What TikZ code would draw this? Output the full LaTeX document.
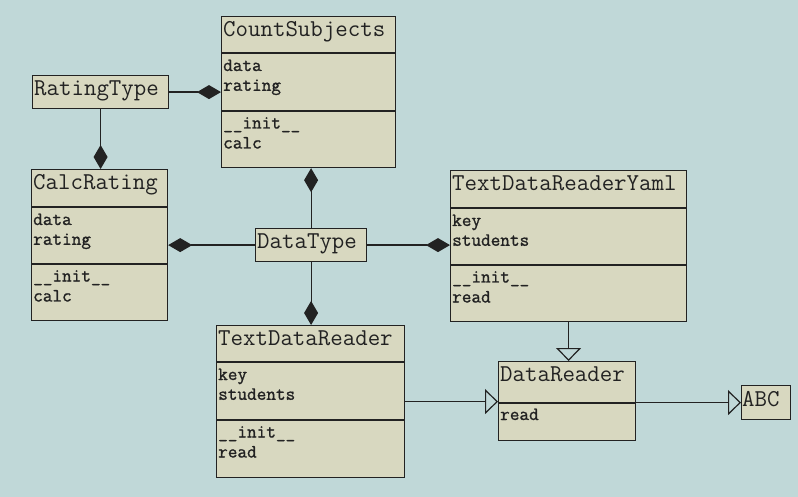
\documentclass[tikz,border=0pt]{standalone}
\usepackage{fontspec}
\newfontfamily\umlmono{Latin Modern Mono}
\newfontfamily\umlmemb{Latin Modern Mono}[FakeBold=1.2]
\usetikzlibrary{arrows.meta}
\usetikzlibrary{positioning}
\definecolor{umlback}{RGB}{192,216,216}
\definecolor{umlfill}{RGB}{216,216,192}
\definecolor{umlline}{RGB}{34,34,34}
\begin{document}
\begin{tikzpicture}[x=1pt, y=-1pt,
				classbox/.style={draw=umlline, fill=umlfill, line width=1.2pt, rectangle, inner sep=0pt, anchor=north west},
				divider/.style={draw=umlline, line width=1.2pt},
				title/.style={anchor=base west, inner sep=0pt, text=umlline, font=\umlmono\fontsize{24.2}{28}\selectfont},
				member/.style={anchor=base west, inner sep=0pt, text=umlline, font=\umlmemb\fontsize{18.7}{22}\selectfont},
				compo/.style={draw=umlline, line width=1.2pt, -{Diamond[length=24pt, width=14pt, fill=umlline]}},
				inherit/.style={draw=umlline, line width=1.2pt, -{Triangle[open, length=13pt, width=25pt]}}]
				\useasboundingbox[fill=umlback] (0,0) rectangle (798,497);
				
				% class boxes
				\node[classbox, minimum width=174pt, minimum height=151pt](count) at (221,16) {};
				\node[classbox, minimum width=136pt, minimum height=33pt](ratingtype) at (32,75) {};
				\node[classbox, minimum width=136pt, minimum height=151pt](calcrating) at (31,169) {};
				\node[classbox, minimum width=111pt, minimum height=33pt](datatype) at (255,228) {};
				\node[classbox, minimum width=236pt, minimum height=151pt](yaml) at (450,170) {};
				\node[classbox, minimum width=188pt, minimum height=152pt](textreader) at (216,325) {};
				\node[classbox, minimum width=137pt, minimum height=79pt](datareader) at (498,361) {};
				\node[classbox, minimum width=49pt, minimum height=34pt](abc) at (741,385) {};
				
				% compartments
				\draw[divider] ([yshift=-37pt]count.north west) -- ([yshift=-37pt]count.north east);
				\draw[divider] ([yshift=-95pt]count.north west) -- ([yshift=-95pt]count.north east);
				\draw[divider] ([yshift=-38pt]calcrating.north west) -- ([yshift=-38pt]calcrating.north east);
				\draw[divider] ([yshift=-95pt]calcrating.north west) -- ([yshift=-95pt]calcrating.north east);
				\draw[divider] ([yshift=-38pt]yaml.north west) -- ([yshift=-38pt]yaml.north east);
				\draw[divider] ([yshift=-95pt]yaml.north west) -- ([yshift=-95pt]yaml.north east);
				\draw[divider] ([yshift=-37pt]textreader.north west) -- ([yshift=-37pt]textreader.north east);
				\draw[divider] ([yshift=-95pt]textreader.north west) -- ([yshift=-95pt]textreader.north east);
				\draw[divider] ([yshift=-42pt]datareader.north west) -- ([yshift=-42pt]datareader.north east);
				
				% texts
				\node[title](count-t) at (223,36.5) {CountSubjects};
				\node[member](count-a1) at (223,71) {data};
				\node[member](count-a2) at (223,90.8) {rating};
				\node[member](count-m1) at (223,128.5) {\_\_init\_\_};
				\node[member](count-m2) at (223,148.5) {calc};
				
				\node[title](ratingtype-t) at (34,95.5) {RatingType};
				
				\node[title](calcrating-t) at (33,189.5) {CalcRating};
				\node[member](calcrating-a1) at (33,225) {data};
				\node[member](calcrating-a2) at (33,244.8) {rating};
				\node[member](calcrating-m1) at (33,281.5) {\_\_init\_\_};
				\node[member](calcrating-m2) at (33,301.5) {calc};
				
				\node[title](datatype-t) at (257,248.5) {DataType};
				
				\node[title](yaml-t) at (452,190.5) {TextDataReaderYaml};
				\node[member](yaml-a1) at (452,226) {key};
				\node[member](yaml-a2) at (452,245.8) {students};
				\node[member](yaml-m1) at (452,282.5) {\_\_init\_\_};
				\node[member](yaml-m2) at (452,302.5) {read};
				
				\node[title](textreader-t) at (218,345.5) {TextDataReader};
				\node[member](textreader-a1) at (218,380) {key};
				\node[member](textreader-a2) at (218,399.8) {students};
				\node[member](textreader-m1) at (218,437.5) {\_\_init\_\_};
				\node[member](textreader-m2) at (218,457.5) {read};
				
				\node[title](datareader-t) at (500,381.5) {DataReader};
				\node[member](datareader-m1) at (500,420) {read};
				
				\node[title](abc-t) at (742,406) {ABC};
				
				% compositions
				\draw[compo] (ratingtype.east) -- (ratingtype.east -| count.west);
				\draw[compo] (ratingtype.south) -- (ratingtype.south |- calcrating.north);
				\draw[compo] (datatype.north) -- (datatype.north |- count.south);
				\draw[compo] (datatype.west) -- (datatype.west -| calcrating.east);
				\draw[compo] (datatype.east) -- (datatype.east -| yaml.west);
				\draw[compo] (datatype.south) -- (datatype.south |- textreader.north);
				
				% inheritance
				\draw[inherit] (yaml.south) -- (yaml.south |- datareader.north);
				\draw[inherit] (textreader.east) -- (textreader.east -| datareader.west);
				\draw[inherit] (abc.west -| datareader.east) -- (abc.west);
			\end{tikzpicture}
\end{document}
